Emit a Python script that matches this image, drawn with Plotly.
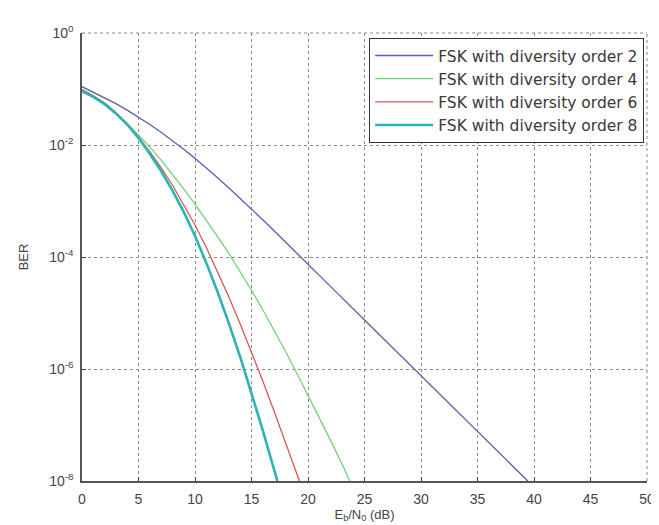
import plotly.graph_objects as go

# Eb/N0 (dB) samples and BER values
x_div2 = [0, 1, 2, 3, 4, 5, 6, 7, 8, 9, 10, 11, 12, 13, 14, 15, 16, 17, 18, 19, 20,
          22.5, 25, 27.5, 30, 32.5, 35, 37.5, 39.45]
ber_div2 = [1.10e-1, 8.81e-2, 7.00e-2, 5.47e-2, 4.20e-2, 3.16e-2, 2.33e-2, 1.69e-2, 1.20e-2,
            8.39e-3, 5.77e-3, 3.90e-3, 2.60e-3, 1.71e-3, 1.12e-3, 7.21e-4, 4.62e-4, 2.94e-4,
            1.87e-4, 1.18e-4, 7.43e-5, 2.36e-5, 7.52e-6, 2.39e-6, 7.60e-7, 2.42e-7, 7.69e-8,
            2.44e-8, 1.0e-8]

x_div4 = [0, 1, 2, 3, 4, 5, 6, 7, 8, 9, 10, 11, 12, 13, 14, 15, 16, 17, 18, 19, 20, 21, 22, 23, 23.7]
ber_div4 = [1.00e-1, 7.59e-2, 5.50e-2, 3.76e-2, 2.45e-2, 1.53e-2, 9.23e-3, 5.37e-3, 3.02e-3,
            1.65e-3, 8.81e-4, 4.58e-4, 2.32e-4, 1.15e-4, 5.51e-5, 2.55e-5, 1.14e-5, 4.93e-6,
            2.07e-6, 8.47e-7, 3.43e-7, 1.36e-7, 5.31e-8, 2.03e-8, 1.0e-8]

x_div6 = [0, 1, 2, 3, 4, 5, 6, 7, 8, 9, 10, 11, 12, 13, 14, 15, 16, 17, 18, 19, 19.24]
ber_div6 = [9.55e-2, 7.59e-2, 5.62e-2, 3.80e-2, 2.37e-2, 1.38e-2, 7.59e-3, 3.94e-3, 1.93e-3,
            8.71e-4, 3.72e-4, 1.48e-4, 5.50e-5, 1.93e-5, 6.38e-6, 2.02e-6, 6.10e-7, 1.76e-7,
            4.95e-8, 1.36e-8, 1.0e-8]

x_div8 = [0, 1, 2, 3, 4, 5, 6, 7, 8, 9, 10, 11, 12, 13, 14, 15, 16, 17, 17.29]
ber_div8 = [9.12e-2, 7.24e-2, 5.37e-2, 3.67e-2, 2.32e-2, 1.33e-2, 7.00e-3, 3.43e-3, 1.55e-3,
            6.38e-4, 2.37e-4, 7.85e-5, 2.37e-5, 6.53e-6, 1.64e-6, 3.76e-7, 8.03e-8, 1.60e-8, 1.0e-8]

names = ["FSK with diversity order 2", "FSK with diversity order 4",
         "FSK with diversity order 6", "FSK with diversity order 8"]

x_ticks = [0, 5, 10, 15, 20, 25, 30, 35, 40, 45, 50]
y_ticks = [1e-8, 1e-6, 1e-4, 1e-2, 1e0]
y_tick_text = ["10<sup>-8</sup>", "10<sup>-6</sup>", "10<sup>-4</sup>", "10<sup>-2</sup>", "10<sup>0</sup>"]

series = [
    (x_div2, ber_div2, "#5e5eac", 1.3),
    (x_div4, ber_div4, "#76d076", 1.3),
    (x_div6, ber_div6, "#d05a5a", 1.3),
    (x_div8, ber_div8, "#2fb2b2", 2.6),
]

fig = go.Figure()
for (xs, ys, col, w), nm in zip(series, names):
    fig.add_trace(go.Scatter(x=xs, y=ys, mode="lines", name=nm,
                             line=dict(color=col, width=w)))

fam = "Liberation Sans, Arial, sans-serif"
tick_font = dict(family=fam, size=14, color="#444444")
title_font = dict(family=fam, size=13, color="#444444")
grid_col = "#8a8a8a"

fig.update_layout(
    width=659, height=525,
    margin=dict(l=74, r=12, t=25, b=52),
    paper_bgcolor="white", plot_bgcolor="white",
    font=tick_font,
    showlegend=True,
    legend=dict(x=0.995, y=0.989, xanchor="right", yanchor="top",
                bgcolor="white", bordercolor="#333333", borderwidth=1,
                font=dict(family="DejaVu Sans, Liberation Sans, sans-serif", size=15.5, color="#3a3a3a"),
                tracegroupgap=0, itemwidth=58),
    shapes=[
        dict(type="line", xref="paper", yref="paper", x0=0, x1=1, y0=1, y1=1,
             line=dict(color=grid_col, width=1, dash="dot"), layer="below"),
        dict(type="line", xref="paper", yref="paper", x0=1, x1=1, y0=0, y1=1,
             line=dict(color=grid_col, width=1, dash="dot"), layer="below"),
    ],
)
fig.update_xaxes(
    range=[0, 50], tickvals=x_ticks, ticks="inside", ticklen=4, tickcolor="#444444",
    showline=True, linecolor="#555555", linewidth=1.5, mirror=False,
    showgrid=True, gridcolor=grid_col, griddash="dot", gridwidth=1,
    zeroline=False, ticklabelstandoff=4,
    title=dict(text="E<sub>b</sub>/N<sub>0</sub> (dB)", standoff=0, font=title_font),
    tickfont=tick_font,
)
fig.update_yaxes(
    type="log", range=[-8, 0], tickvals=y_ticks, ticktext=y_tick_text,
    ticks="inside", ticklen=4, tickcolor="#444444",
    showline=True, linecolor="#555555", linewidth=1.5, mirror=False,
    showgrid=True, gridcolor=grid_col, griddash="dot", gridwidth=1,
    zeroline=False, ticklabelstandoff=4,
    title=dict(text="BER", standoff=18, font=title_font),
    tickfont=tick_font,
)
fig.write_html("out.html")
